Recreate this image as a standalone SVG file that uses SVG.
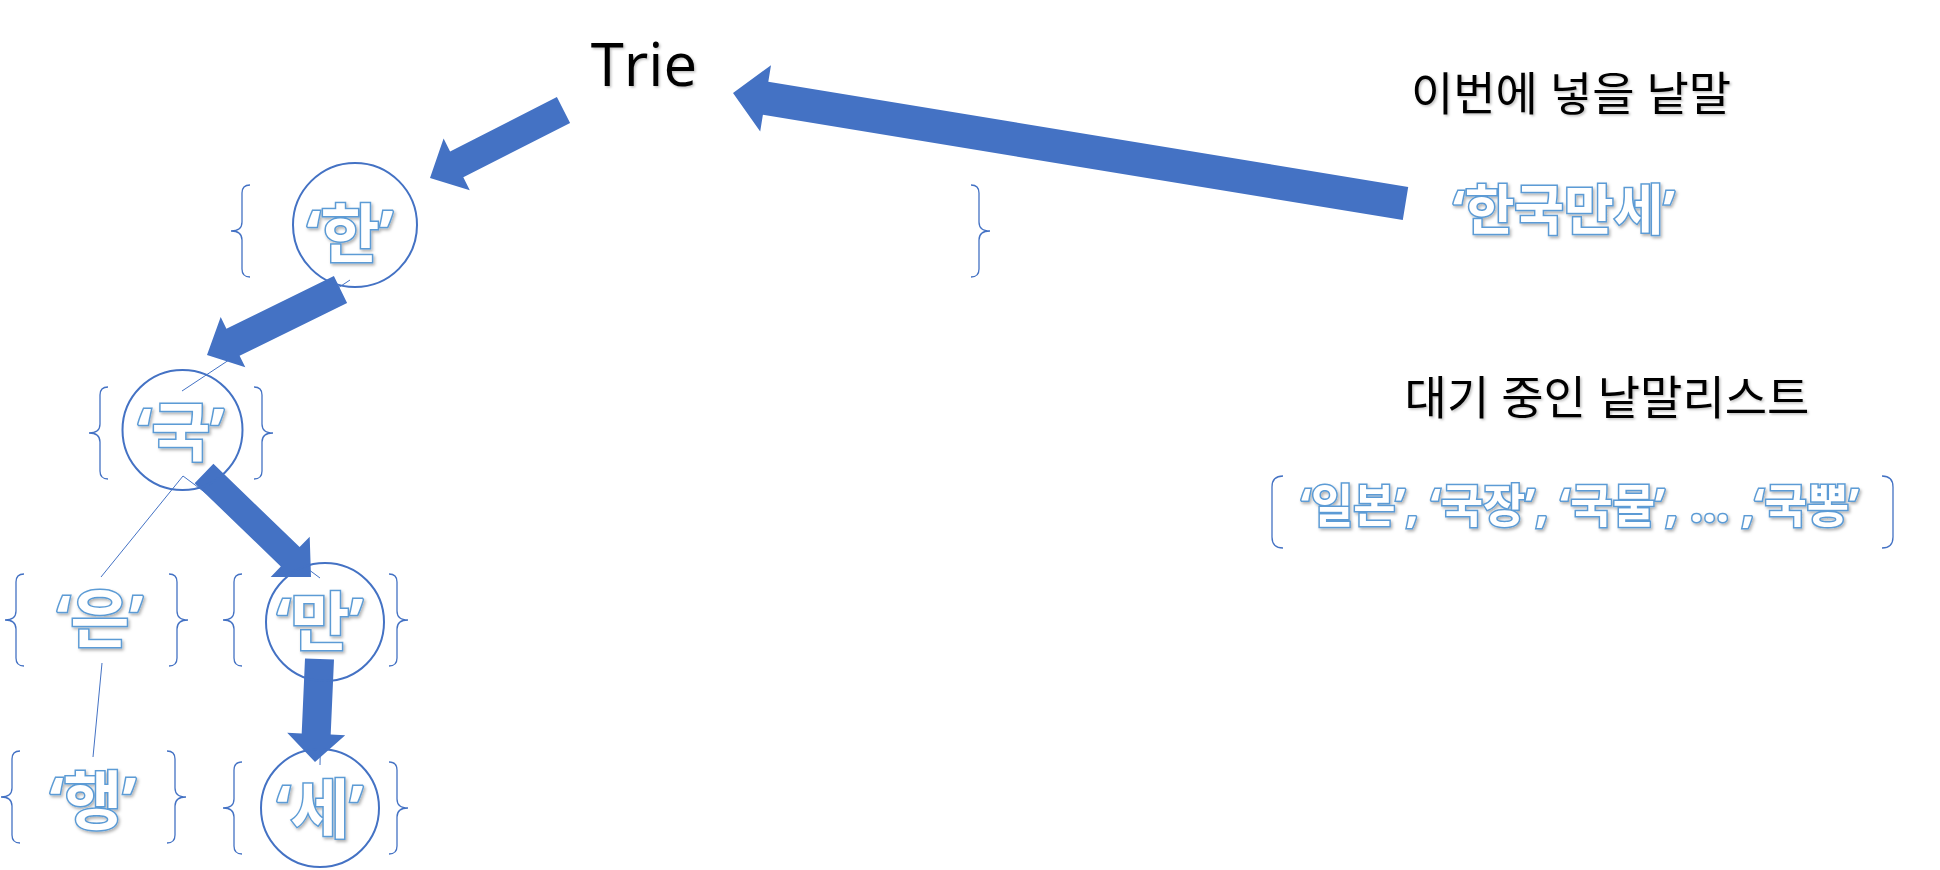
<svg xmlns="http://www.w3.org/2000/svg" xmlns:xlink="http://www.w3.org/1999/xlink" width="1940" height="870" viewBox="0 0 1940 870">
<style>
.circle{fill:none;stroke:#4472C4;stroke-width:2}
.brace{fill:none;stroke:#4472C4;stroke-width:1.3}
.thin{fill:none;stroke:#4472C4;stroke-width:1}
.arrow{fill:#4472C4;stroke:none}
.outline{font-family:"Noto Sans","Noto Sans CJK KR",sans-serif;font-weight:bold;fill:#ffffff;stroke:#5B9BD5;stroke-width:3;paint-order:stroke;text-anchor:middle;filter:url(#shadow)}
.black{font-family:"Noto Sans","Noto Sans CJK KR",sans-serif;fill:#000000;text-anchor:middle;filter:url(#shadow2)}
</style>
<defs>
<filter id="shadow" x="-20%" y="-20%" width="140%" height="150%">
<feDropShadow dx="1.5" dy="2" stdDeviation="1.5" flood-color="#000" flood-opacity="0.3"/>
</filter>
<filter id="shadow2" x="-20%" y="-20%" width="140%" height="150%">
<feDropShadow dx="1.5" dy="1.5" stdDeviation="1.2" flood-color="#000" flood-opacity="0.25"/>
</filter>
<path id="braceL" class="brace" d="M19,-46 Q11,-46 11,-38 L11,-9 Q11,0 0,0 Q11,0 11,9 L11,38 Q11,46 19,46"/>
</defs>
<rect width="1940" height="870" fill="#ffffff"/>

<g id="connectors">
<line class="thin" x1="350" y1="280" x2="182" y2="391"/>
<line class="thin" x1="183" y1="476" x2="101" y2="577"/>
<line class="thin" x1="183" y1="476" x2="320" y2="578"/>
<line class="thin" x1="102" y1="663" x2="93" y2="757"/>
<line class="thin" x1="322" y1="660" x2="320" y2="765"/>
<polygon class="arrow" points="556.9,97.1 450.1,151.5 443.6,138.6 430,178 469.8,190.2 463.3,177.3 570.1,122.9"/>
<polygon class="arrow" points="333.9,276.0 226.4,328.7 220.7,317.1 207,355 245.3,367.3 239.6,355.7 347.1,303.0"/>
<polygon class="arrow" points="194.6,483.2 280.8,566.5 270.7,576.9 311,577 309.7,536.7 299.6,547.1 213.4,463.8"/>
<polygon class="arrow" points="305.0,658.4 301.7,733.4 287.2,732.7 315,762 345.2,735.3 330.7,734.6 334.0,659.6"/>
<polygon class="arrow" points="1408.2,187.0 768.3,81.8 771.0,65.2 733,93 760.2,131.4 762.9,114.8 1402.8,220.0"/>
</g>

<g id="trie">
<text class="black" x="644" y="86" font-size="60" style="font-family:'Open Sans','Noto Sans',sans-serif">Trie</text>
</g>

<g id="node-han">
<use xlink:href="#braceL" transform="translate(231,231)"/>
<use xlink:href="#braceL" transform="translate(990,231) scale(-1,1)"/>
<circle class="circle" cx="355" cy="225" r="62"/>
<text class="outline" x="350" y="257" font-size="64">‘한’</text>
</g>

<g id="node-guk">
<use xlink:href="#braceL" transform="translate(89,433)"/>
<use xlink:href="#braceL" transform="translate(273,433) scale(-1,1)"/>
<circle class="circle" cx="182.5" cy="430" r="60"/>
<text class="outline" x="181" y="455" font-size="64">‘국’</text>
</g>

<g id="node-eun">
<use xlink:href="#braceL" transform="translate(5,620)"/>
<use xlink:href="#braceL" transform="translate(188,620) scale(-1,1)"/>
<text class="outline" x="100" y="642" font-size="64">‘은’</text>
</g>

<g id="node-man">
<use xlink:href="#braceL" transform="translate(223,620)"/>
<use xlink:href="#braceL" transform="translate(408,620) scale(-1,1)"/>
<circle class="circle" cx="325" cy="622" r="59"/>
<text class="outline" x="320" y="645" font-size="64">‘만’</text>
</g>

<g id="node-haeng">
<use xlink:href="#braceL" transform="translate(1,797)"/>
<use xlink:href="#braceL" transform="translate(186,797) scale(-1,1)"/>
<text class="outline" x="93" y="824" font-size="64">‘행’</text>
</g>

<g id="node-se">
<use xlink:href="#braceL" transform="translate(223,808)"/>
<use xlink:href="#braceL" transform="translate(408,808) scale(-1,1)"/>
<circle class="circle" cx="320" cy="808" r="59"/>
<text class="outline" x="320" y="832" font-size="64">‘세’</text>
</g>

<g id="label-insert">
<text class="black" x="1571" y="110" font-size="46">이번에 넣을 낱말</text>
<text class="outline" x="1564" y="230" font-size="54">‘한국만세’</text>
</g>

<g id="label-waiting">
<text class="black" x="1607" y="414" font-size="46">대기 중인 낱말리스트</text>
<path class="brace" d="M1283,476 Q1272,476 1272,487 L1272,537 Q1272,548 1283,548"/>
<path class="brace" d="M1882,476 Q1893,476 1893,487 L1893,537 Q1893,548 1882,548"/>
<text class="outline" x="1580" y="522" font-size="46">‘일본’, ‘국장’, ‘국물’, … ,‘국뽕’</text>
</g>
</svg>
